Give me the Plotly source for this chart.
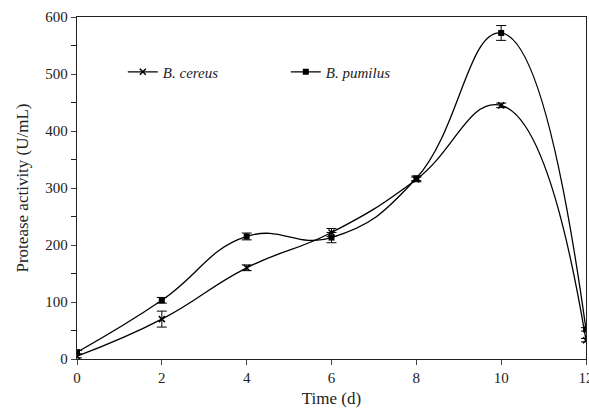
import plotly.graph_objects as go

time_d = [0, 2, 4, 6, 8, 10, 12]
cereus = [5, 70, 160, 222, 315, 445, 33]
cereus_err = [3, 14, 5, 7, 4, 4, 3]
pumilus = [12, 103, 215, 213, 317, 572, 52]
pumilus_err = [3, 5, 6, 9, 4, 13, 3]

fig = go.Figure()
fig.add_trace(go.Scatter(
    x=time_d, y=cereus, name="<i>B. cereus</i>", mode="lines+markers",
    line=dict(color="black", width=1.3, shape="spline", smoothing=1.3),
    marker=dict(symbol="x-thin", size=6, color="black", line=dict(width=1.5, color="black")),
    error_y=dict(type="data", array=cereus_err, color="black", thickness=1, width=5),
))
fig.add_trace(go.Scatter(
    x=time_d, y=pumilus, name="<i>B. pumilus</i>", mode="lines+markers",
    line=dict(color="black", width=1.3, shape="spline", smoothing=1.3),
    marker=dict(symbol="square", size=6, color="black"),
    error_y=dict(type="data", array=pumilus_err, color="black", thickness=1, width=5),
))

fig.update_layout(
    width=589, height=410,
    margin=dict(l=77, r=3, t=17, b=51, autoexpand=False),
    paper_bgcolor="white", plot_bgcolor="white",
    font=dict(family="Liberation Serif", size=15, color="#222"),
    showlegend=True,
    legend=dict(orientation="h", x=0.09, y=0.839, xanchor="left", yanchor="middle",
                entrywidth=118, entrywidthmode="pixels",
                font=dict(size=15, family="Liberation Serif"), bgcolor="rgba(0,0,0,0)",
                itemwidth=30),
    xaxis=dict(range=[0, 12], tickvals=[0, 2, 4, 6, 8, 10, 12], ticks="outside", ticklen=5,
               ticklabeloverflow="allow", automargin=False,
               showline=True, linecolor="#222", linewidth=1.3, mirror=True, showgrid=False,
               zeroline=False, tickfont=dict(size=15), title=dict(text="Time (d)", standoff=6, font=dict(size=17))),
    yaxis=dict(range=[0, 600], tickvals=[0, 100, 200, 300, 400, 500, 600], ticks="outside", ticklen=5,
               minor=dict(tickvals=[50, 150, 250, 350, 450, 550], ticks="outside", ticklen=5, tickcolor="#222"),
               showline=True, linecolor="#222", linewidth=1.3, mirror=True, showgrid=False,
               zeroline=False, tickfont=dict(size=15), automargin=False,
               title=dict(text="Protease activity (U/mL)", standoff=12, font=dict(size=17))),
)
fig.write_html("out.html")
